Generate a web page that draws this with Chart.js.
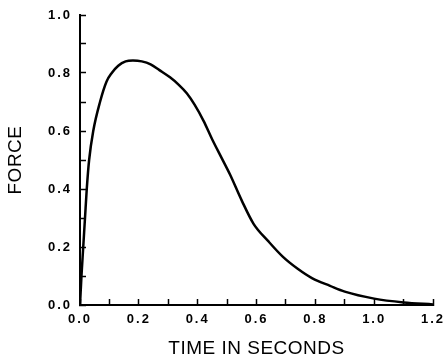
<!DOCTYPE html>
<html>
<head>
<meta charset="utf-8">
<script src="https://cdn.jsdelivr.net/npm/chart.js@4"></script>
<style>
  body { margin: 0; background: #fff; }
  #wrap { width: 448px; height: 360px; }
</style>
</head>
<body>
<div id="wrap"><canvas id="forceChart"></canvas></div>
<script>
// time (s) and force
const timeValues = [0, 0.005, 0.011, 0.017, 0.023, 0.031, 0.045, 0.068, 0.09, 0.108, 0.13, 0.155, 0.18,
    0.21, 0.24, 0.27, 0.306, 0.335, 0.363, 0.39, 0.42, 0.45, 0.48, 0.51, 0.55, 0.59, 0.64, 0.69,
    0.74, 0.79, 0.85, 0.9, 1.0, 1.1, 1.2];
const forceValues = [0, 0.1, 0.2, 0.3, 0.4, 0.5, 0.6, 0.7, 0.77, 0.8, 0.825, 0.84, 0.843,
    0.84, 0.83, 0.81, 0.785, 0.76, 0.73, 0.69, 0.635, 0.57, 0.51, 0.45, 0.36, 0.28, 0.22, 0.166,
    0.125, 0.092, 0.066, 0.046, 0.022, 0.009, 0.002];

const points = timeValues.map((t, i) => ({ x: t, y: forceValues[i] }));

// label every second tick (0.0, 0.2, ...), keep the tick marks at 0.1
const everyOther = v => (Math.round(v * 10) % 2 === 0 ? v.toFixed(1) : '');

// wide typewriter-ish spacing: bold tick labels get more than the titles
const spacing = {
    id: 'spacing',
    beforeDraw(chart) {
        const c = chart.ctx;
        if (c._spaced) return;
        const fill = c.fillText;
        c.fillText = function (t, x, y, w) {
            this.letterSpacing = this.font.indexOf('bold') >= 0 ? '2px' : '0.5px';
            fill.call(this, t, x, y, w);
            this.letterSpacing = '0px';
        };
        c._spaced = true;
    }
};

const tickFont = { family: 'Liberation Sans', size: 13, weight: 'bold' };
const titleFont = { family: 'Liberation Sans', size: 19 };

const ctx = document.getElementById('forceChart').getContext('2d');
new Chart(ctx, {
    type: 'line',
    data: {
        datasets: [{
            data: points,
            borderColor: '#000',
            borderWidth: 2.5,
            pointRadius: 0,
            cubicInterpolationMode: 'monotone',
            fill: false
        }]
    },
    options: {
        responsive: true,
        maintainAspectRatio: false,
        animation: false,
        layout: { padding: { top: 15, right: 15, left: 0, bottom: 0 } },
        plugins: { legend: { display: false }, tooltip: { enabled: false } },
        scales: {
            x: {
                type: 'linear',
                min: 0,
                max: 1.2,
                afterFit(scale) {
                    scale.height = 55;
                    scale.paddingLeft = 0;
                    scale.paddingRight = 0;
                },
                ticks: { stepSize: 0.1, autoSkip: false, maxRotation: 0, color: '#000', font: tickFont, padding: 13, callback: everyOther },
                grid: { drawOnChartArea: false, drawTicks: true, tickLength: -6, tickColor: '#000', tickWidth: 1.5 },
                border: { color: '#000', width: 2 },
                title: { display: true, text: 'TIME IN SECONDS', color: '#000', font: titleFont, padding: { top: 0, bottom: 0 } }
            },
            y: {
                min: 0,
                max: 1,
                afterFit(scale) {
                    scale.width = 80;
                    scale.paddingTop = 0;
                    scale.paddingBottom = 0;
                },
                ticks: { stepSize: 0.1, autoSkip: false, color: '#000', font: tickFont, padding: 14, callback: everyOther },
                grid: { drawOnChartArea: false, drawTicks: true, tickLength: -6, tickColor: '#000', tickWidth: 1.5 },
                border: { color: '#000', width: 2 },
                title: { display: true, text: 'FORCE', color: '#000', font: titleFont, padding: { top: 4, bottom: 0 } }
            }
        }
    },
    plugins: [spacing]
});
</script>
</body>
</html>
